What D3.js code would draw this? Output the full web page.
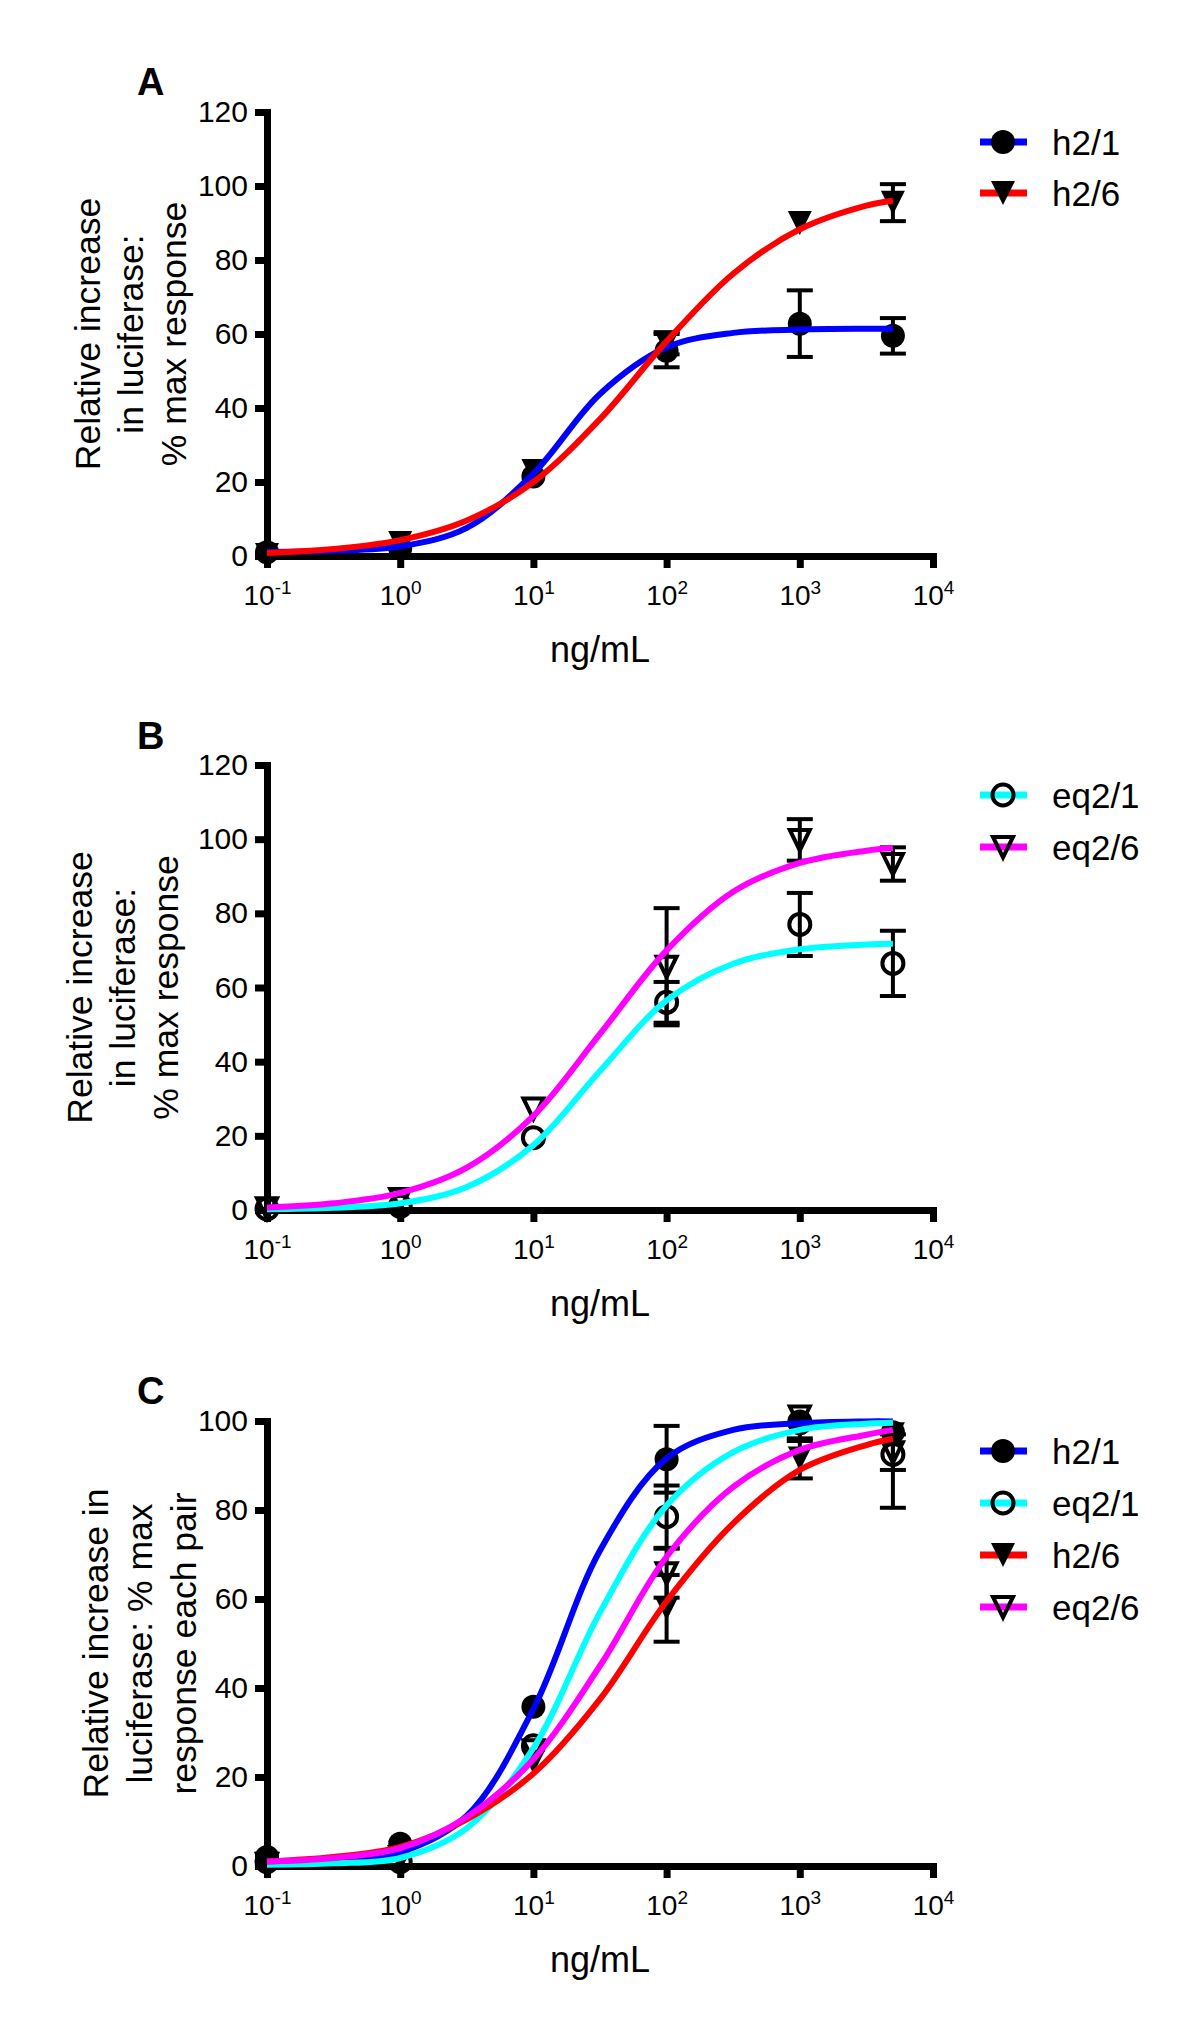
<!DOCTYPE html>
<html><head><meta charset="utf-8">
<script src="https://cdn.jsdelivr.net/npm/d3@7"></script>
<style>body{margin:0;background:#fff} svg{display:block}</style>
</head><body>
<script>
// ---------- data ----------
const doses = [0.1, 1, 10, 100, 1000, 5000];
const curveLogDoses = [-1, -0.5, 0, 0.5, 1, 1.5, 2, 2.5, 3, 3.5, 3.699];
const xTickExponents = [-1, 0, 1, 2, 3, 4];
const yTicksAB = [0, 20, 40, 60, 80, 100, 120];
const yTicksC = [0, 20, 40, 60, 80, 100];
const panelLabels = ["A", "B", "C"];
const xTitle = "ng/mL";
const yTitleAB = ["Relative increase", "in luciferase:", "% max response"];
const yTitleC = ["Relative increase in", "luciferase: % max", "response each pair"];
const seriesNames = ["h2/1", "eq2/1", "h2/6", "eq2/6"];

// Panel A
const aH21Mean = [1, 2, 21.5, 55.5, 62.8, 59.5];
const aH21Err  = [0, 0, 0, 4.5, 9, 4.8];
const aH26Mean = [0.3, 3.5, 23, 57.5, 90, 95.5];
const aH26Err  = [0, 0, 0, 3, 0, 5];
const aH21Curve = [1.1, 1.4, 2.6, 7.6, 22.3, 43.8, 56.4, 60.3, 61.2, 61.4, 61.4];
const aH26Curve = [0.8, 1.9, 4.3, 9.6, 20, 37, 58, 76.3, 88.3, 94.7, 96];

// Panel B
const bEq21Mean = [0.3, 1, 19.5, 56, 77, 66.5];
const bEq21Err  = [0, 0, 0, 5.5, 8.5, 8.8];
const bEq26Mean = [0.5, 3, 27.4, 65.6, 99.8, 93.3];
const bEq26Err  = [0, 0, 0, 15.8, 5.6, 4.5];
const bEq21Curve = [0.2, 0.6, 1.8, 6.2, 17.5, 37.5, 56.5, 66.4, 70.3, 71.6, 71.8];
const bEq26Curve = [0.7, 1.8, 4.6, 11.4, 25.4, 47.5, 70, 85.8, 93.6, 96.9, 97.6];

// Panel C
const cH21Mean = [2, 5, 35.8, 91.4, 99.5, 97.5];
const cH21Err  = [0, 0, 0, 7.5, 0, 0];
const cEq21Mean = [1, 1, 27, 78.5, 99.8, 92.5];
const cEq21Err  = [0, 0, 0, 7, 0, 12];
const cH26Mean = [0.5, 3, 23.4, 57.9, 91.6, 97];
const cH26Err  = [0, 0, 0, 7.5, 4.5, 0];
const cEq26Mean = [0.5, 2, 26, 65.8, 101, 93];
const cEq26Err  = [0, 0, 0, 5.5, 5.5, 4];
const cH21Curve = [0.6, 1.1, 3.1, 11.3, 35.3, 70.9, 91.6, 98, 99.5, 99.9, 99.9];
const cEq21Curve = [0.3, 0.6, 1.8, 8.5, 26.5, 57, 81, 93, 98, 99.4, 99.6];
const cH26Curve = [1, 2, 4.3, 10.5, 20.8, 37.5, 59.5, 77, 89, 94.6, 96];
const cEq26Curve = [1, 1.8, 4, 11, 24, 45, 69.5, 85.2, 93.5, 96.9, 98];

// ---------- styles ----------
const STYLE = {
  "h2/1":  {color: "#0000ff", shape: "circle",   filled: true},
  "eq2/1": {color: "#00ffff", shape: "circle",   filled: false},
  "h2/6":  {color: "#ff0000", shape: "triangle", filled: true},
  "eq2/6": {color: "#ff00ff", shape: "triangle", filled: false}
};
const FONT = "'Liberation Sans', Arial, Helvetica, sans-serif";

const panels = [
  {label: panelLabels[0], yMax: 120, yTop: 112, y0: 556, ticks: yTicksAB, title: yTitleAB,
   titleX: [100, 143, 186], labelY: 95, legendY: [142, 193],
   series: [
     {name: "h2/1", mean: aH21Mean, err: aH21Err, curve: aH21Curve},
     {name: "h2/6", mean: aH26Mean, err: aH26Err, curve: aH26Curve}]},
  {label: panelLabels[1], yMax: 120, yTop: 765, y0: 1210, ticks: yTicksAB, title: yTitleAB,
   titleX: [92, 135, 178], labelY: 749, legendY: [795, 847],
   series: [
     {name: "eq2/1", mean: bEq21Mean, err: bEq21Err, curve: bEq21Curve},
     {name: "eq2/6", mean: bEq26Mean, err: bEq26Err, curve: bEq26Curve}]},
  {label: panelLabels[2], yMax: 100, yTop: 1421, y0: 1866, ticks: yTicksC, title: yTitleC,
   titleX: [108, 152, 196], labelY: 1404, legendY: [1451, 1503, 1555, 1607],
   series: [
     {name: "h2/1", mean: cH21Mean, err: cH21Err, curve: cH21Curve},
     {name: "eq2/1", mean: cEq21Mean, err: cEq21Err, curve: cEq21Curve},
     {name: "h2/6", mean: cH26Mean, err: cH26Err, curve: cH26Curve},
     {name: "eq2/6", mean: cEq26Mean, err: cEq26Err, curve: cEq26Curve}]}
];

const svg = d3.select("body").append("svg")
  .attr("width", 1200).attr("height", 2036)
  .style("font-family", FONT);

function drawMarker(g, st, cx, cy) {
  if (st.shape === "circle") {
    if (st.filled) g.append("circle").attr("cx", cx).attr("cy", cy).attr("r", 12).attr("fill", "#000");
    else g.append("circle").attr("cx", cx).attr("cy", cy).attr("r", 10.5)
          .attr("fill", "none").attr("stroke", "#000").attr("stroke-width", 4);
  } else {
    if (st.filled) g.append("path").attr("transform", `translate(${cx},${cy})`)
          .attr("d", "M-12,-12L12,-12L0,12Z").attr("fill", "#000");
    else g.append("path").attr("transform", `translate(${cx},${cy})`)
          .attr("d", "M-10,-10L10,-10L0,10.5Z").attr("fill", "none")
          .attr("stroke", "#000").attr("stroke-width", 4).attr("stroke-linejoin", "miter");
  }
}

panels.forEach(p => {
  const g = svg.append("g");
  const x = d3.scaleLog().domain([0.1, 10000]).range([267, 933]);
  const y = d3.scaleLinear().domain([0, p.yMax]).range([p.y0, p.yTop]);

  // y axis
  const ya = g.append("g").attr("transform", `translate(${x(0.1)},0)`)
    .call(d3.axisLeft(y).tickValues(p.ticks).tickSize(12).tickSizeOuter(0).tickPadding(7));
  ya.select(".domain").attr("stroke", "#000").attr("stroke-width", 7).attr("stroke-linecap", "square");
  ya.selectAll(".tick line").attr("stroke", "#000").attr("stroke-width", 7);
  ya.selectAll(".tick text").attr("font-size", 30).attr("font-family", FONT).attr("fill", "#000");

  // x axis
  const xa = g.append("g").attr("transform", `translate(0,${y(0)})`)
    .call(d3.axisBottom(x).tickValues(xTickExponents.map(e => Math.pow(10, e)))
      .tickSize(12).tickSizeOuter(0).tickFormat(""));
  xa.select(".domain").attr("stroke", "#000").attr("stroke-width", 7).attr("stroke-linecap", "square");
  xa.selectAll(".tick line").attr("stroke", "#000").attr("stroke-width", 7);
  xa.selectAll(".tick text").remove();
  xa.selectAll(".tick").each(function(d) {
    const e = Math.round(Math.log10(d));
    const t = d3.select(this).append("text").attr("y", 49).attr("text-anchor", "middle")
      .attr("fill", "#000").attr("font-family", FONT);
    t.append("tspan").attr("font-size", 28).text("10");
    t.append("tspan").attr("font-size", 19).attr("dy", -11).text(String(e));
  });

  // titles
  g.append("text").attr("x", 600).attr("y", p.y0 + 106).attr("text-anchor", "middle")
    .attr("font-size", 36).text(xTitle);
  const cy = (p.y0 + p.yTop) / 2;
  p.title.forEach((line, i) => {
    g.append("text").attr("transform", `translate(${p.titleX[i]},${cy}) rotate(-90)`)
      .attr("text-anchor", "middle").attr("font-size", 35.5).text(line);
  });
  g.append("text").attr("x", 137).attr("y", p.labelY).attr("font-size", 38)
    .attr("font-weight", "bold").text(p.label);

  // error bars
  p.series.forEach(s => {
    const eg = g.append("g").attr("stroke", "#000").attr("stroke-width", 4);
    s.mean.forEach((m, i) => {
      if (!s.err[i]) return;
      const lo = Math.max(0, m - s.err[i]), hi = Math.min(p.yMax, m + s.err[i]);
      const cx = x(doses[i]);
      eg.append("line").attr("x1", cx).attr("x2", cx).attr("y1", y(lo)).attr("y2", y(hi));
      eg.append("line").attr("x1", cx - 13).attr("x2", cx + 13).attr("y1", y(lo)).attr("y2", y(lo));
      if (m + s.err[i] <= p.yMax)
        eg.append("line").attr("x1", cx - 13).attr("x2", cx + 13).attr("y1", y(hi)).attr("y2", y(hi));
    });
  });
  // markers
  p.series.forEach(s => {
    const st = STYLE[s.name];
    s.mean.forEach((m, i) => drawMarker(g, st, x(doses[i]), y(m)));
  });
  // fitted curves
  const line = d3.line().x(d => x(Math.pow(10, d[0]))).y(d => y(d[1])).curve(d3.curveCatmullRom.alpha(0.5));
  p.series.forEach(s => {
    g.append("path").datum(curveLogDoses.map((lx, i) => [lx, s.curve[i]]))
      .attr("d", line).attr("fill", "none").attr("stroke", STYLE[s.name].color)
      .attr("stroke-width", 6).attr("stroke-linecap", "butt");
  });

  // legend
  p.series.forEach((s, i) => {
    const ly = p.legendY[i];
    const st = STYLE[s.name];
    g.append("line").attr("x1", 980).attr("x2", 1027).attr("y1", ly).attr("y2", ly)
      .attr("stroke", st.color).attr("stroke-width", 7);
    drawMarker(g, st, 1003, ly);
    g.append("text").attr("x", 1052).attr("y", ly).attr("dy", "0.36em")
      .attr("font-size", 35).text(s.name);
  });
});
</script>
</body></html>
